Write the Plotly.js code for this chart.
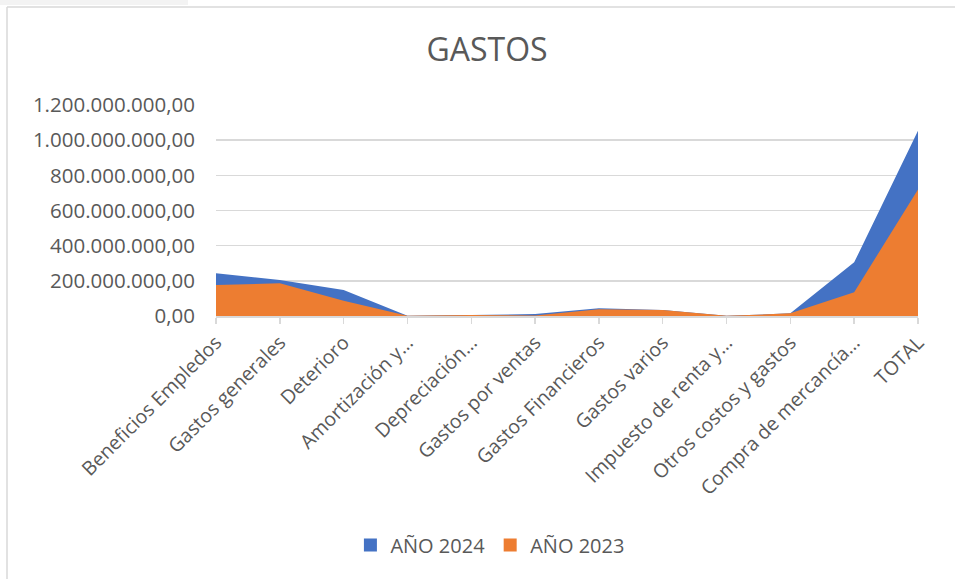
<!DOCTYPE html>
<html>
<head>
<meta charset="utf-8">
<script src="https://cdn.plot.ly/plotly-3.0.1.min.js"></script>
<style>html,body{margin:0;padding:0;background:#fff;}#chart{width:955px;height:579px;}</style>
</head>
<body>
<div id="chart"></div>
<script>
const categories = ["Beneficios Empledos", "Gastos generales", "Deterioro", "Amortización y…", "Depreciación…", "Gastos por ventas", "Gastos Financieros", "Gastos varios", "Impuesto de renta y…", "Otros costos y gastos", "Compra de mercancía…", "TOTAL"];
const values2024 = [243000000, 205000000, 148000000, 1000000, 5000000, 11000000, 44000000, 34000000, 1000000, 15000000, 305000000, 1054000000];
const values2023 = [176000000, 186000000, 87000000, 1000000, 5000000, 3000000, 38000000, 34000000, 1000000, 15000000, 135000000, 720000000];
const yTicks = [0, 200000000, 400000000, 600000000, 800000000, 1000000000, 1200000000];
const seriesNames = ["AÑO 2024", "AÑO 2023"];
const seriesColors = ["#4472C4", "#ED7D31"];

const W = 955, H = 579, L = 216, R = 37, T = 105, B = 263;
const pw = W - L - R, ph = H - T - B;
const px = x => (x - L) / pw;
const py = y => (H - B - y) / ph;

const font = "'Open Sans', 'Noto Sans', sans-serif";
const grey = "#595959";

const traces = [
  {x: categories, y: values2024, name: seriesNames[0], type: "scatter", mode: "lines", fill: "tozeroy",
   line: {width: 0, color: seriesColors[0]}, fillcolor: seriesColors[0], showlegend: false},
  {x: categories, y: values2023, name: seriesNames[1], type: "scatter", mode: "lines", fill: "tozeroy",
   line: {width: 0, color: seriesColors[1]}, fillcolor: seriesColors[1], showlegend: false},
  {x: [null], y: [null], name: seriesNames[0], type: "scatter", mode: "markers",
   marker: {symbol: "square", size: 13, color: seriesColors[0]}, showlegend: true},
  {x: [null], y: [null], name: seriesNames[1], type: "scatter", mode: "markers",
   marker: {symbol: "square", size: 13, color: seriesColors[1]}, showlegend: true}
];

const layout = {
  width: W, height: H,
  margin: {l: L, r: R, t: T, b: B},
  paper_bgcolor: "#fff", plot_bgcolor: "#fff",
  separators: ",.",
  font: {family: font, color: grey, size: 20},
  title: {text: "GASTOS", x: 0.51, xref: "container", y: 1 - 50/579, yref: "container", yanchor: "middle",
          font: {family: font, size: 32, color: grey}},
  xaxis: {type: "category", range: [0, categories.length - 1], tickangle: -45,
          showgrid: false, showline: true, linecolor: "#d9d9d9", linewidth: 1.5,
          ticks: "outside", ticklen: 6, tickcolor: "#d9d9d9", tickwidth: 1.5,
          tickfont: {family: font, size: 19.5, color: grey}, automargin: false, fixedrange: true},
  yaxis: {range: [0, 1200000000], tickvals: yTicks, tickformat: ",.2f",
          showgrid: true, gridcolor: "#d9d9d9", gridwidth: 1.5, zeroline: false, showline: false,
          ticks: "", ticklen: 0, ticklabelstandoff: 20,
          tickfont: {family: font, size: 20.5, color: grey}, automargin: false, fixedrange: true},
  showlegend: true,
  legend: {orientation: "h", x: 0.513, xref: "container", xanchor: "center", y: 1 - 545/579, yref: "container", yanchor: "middle",
           font: {family: font, size: 20, color: grey}, traceorder: "normal", itemwidth: 30},
  shapes: [
    {type: "rect", xref: "paper", yref: "paper", x0: px(0), x1: px(188), y0: py(0), y1: py(5),
     fillcolor: "#f3f3f3", line: {width: 0}, layer: "below"},
    {type: "line", xref: "paper", yref: "paper", x0: px(7), x1: px(7), y0: py(7), y1: py(590),
     line: {color: "#d9d9d9", width: 1.5}},
    {type: "line", xref: "paper", yref: "paper", x0: px(7), x1: px(960), y0: py(7), y1: py(7),
     line: {color: "#d9d9d9", width: 1.5}}
  ]
};

Plotly.newPlot("chart", traces, layout, {displayModeBar: false, staticPlot: true});
</script>
</body>
</html>
